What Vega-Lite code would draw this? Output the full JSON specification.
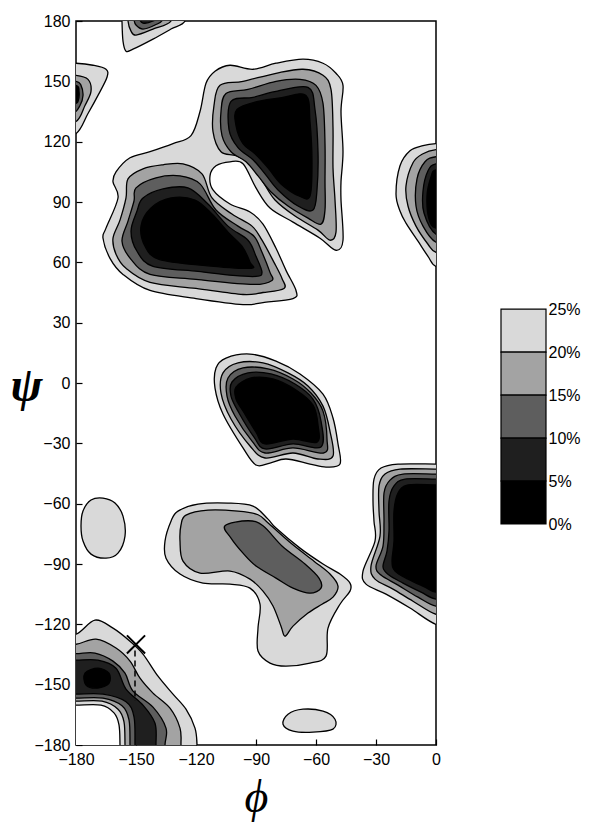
{
  "$schema": "https://vega.github.io/schema/vega-lite/v6.json",
  "background": "white",
  "padding": {"left": 9, "top": 12, "right": 5, "bottom": 5},
  "bounds": "flush",
  "spacing": 65,
  "config": {"view": {"stroke": "black", "strokeWidth": 1.5}, "font": "Liberation Sans"},
  "datasets": {
    "contours": [
      {"poly":"t1a","lev":1,"pass":"A","phi":[-157,-156.5,-155,-151.5,-141.5,-132.5,-125.5,-125.5,-125.5,-157,-157],"psi":[180,170,165,166,171,176,180,190,200,200,190]},
      {"poly":"t1b","lev":2,"pass":"A","phi":[-154,-152.5,-150,-141.5,-132.5,-132.5,-132.5,-154,-154],"psi":[180,175,173,176,180,190,200,200,190]},
      {"poly":"t1c","lev":3,"pass":"A","phi":[-151,-150,-146.5,-140.5,-136.5,-136.5,-136.5,-151,-151],"psi":[181,178,176,178,181,190,200,200,190]},
      {"poly":"t1d","lev":4,"pass":"A","phi":[-148.5,-146.5,-141.5,-140,-140,-140,-148.5,-148.5],"psi":[182,179,180,182,190,200,200,190]},
      {"poly":"le1","lev":1,"pass":"A","phi":[-180,-171.5,-165,-164.5,-169,-174,-180,-190,-200,-200,-190],"psi":[159,158,156,152,143,134,124,124,124,159,159]},
      {"poly":"le2","lev":2,"pass":"A","phi":[-180,-174,-172.5,-175.5,-180,-190,-200,-200,-190],"psi":[153,151,145,138,130,129,129,153,153]},
      {"poly":"le3","lev":3,"pass":"A","phi":[-180,-177.5,-176.5,-178,-181.5,-190,-200,-200,-190],"psi":[150,148,143,138,134,133,133,150,150]},
      {"poly":"le5","lev":5,"pass":"A","phi":[-180,-178.5,-179,-181,-190,-200,-200,-190],"psi":[148,145,140,139,139,139,148,148]},
      {"poly":"big1","lev":1,"pass":"A","phi":[-110.5,-103,-91.5,-80,-66.5,-56.5,-50,-46.5,-47.5,-46.5,-47.5,-47.5,-46.5,-50,-58,-71.5,-83,-90,-96.5,-103,-110,-113,-111.5,-103,-93,-86.5,-80,-75,-70,-71.5,-86.5,-96.5,-120,-143,-156.5,-163,-166.5,-165,-159,-161.5,-160,-153,-143,-131.5,-122.5,-118,-115],"psi":[155,158,156,159,161,159,154,148,135,115,100,91,71,66,72,80,87,97,109,110,108,103,96,89,85,79,67,56,46,42,40,39,42,46,54,62,72,77,92,100,105,112,115,119,123,135,149]},
      {"poly":"tc2","lev":2,"pass":"A","phi":[-108,-96.5,-80,-66.5,-56.5,-52.5,-51.5,-51.5,-50.5,-50,-53,-59,-70.5,-80.5,-86.5,-92.5,-100,-107.5,-111.5,-111],"psi":[148,150,154,156,153,146,127,107,91,75,71,76,83,91,100,109,113,115,125,138]},
      {"poly":"tc3","lev":3,"pass":"A","phi":[-105,-94,-80,-68,-60,-56.5,-55.5,-55.5,-55.5,-57.5,-64,-74,-82.5,-89,-95,-102.5,-107,-107.5],"psi":[144,146,150,151,148,139,119,100,86,79,82,88,95,103,110,115,123,135]},
      {"poly":"tc4","lev":4,"pass":"A","phi":[-102.5,-91.5,-80,-64,-60.5,-59,-59.5,-61.5,-69,-79,-85.5,-91.5,-99,-103.5],"psi":[140,142,145,147,136,115,96,86,88,96,104,111,117,126]},
      {"poly":"tc5","lev":5,"pass":"A","phi":[-99.5,-89,-76.5,-65,-63,-62,-63,-68.5,-77.5,-84,-90.5,-96.5,-100],"psi":[136,140,142,143,130,110,93,93,99,107,114,119,128]},
      {"poly":"lc2","lev":2,"pass":"A","phi":[-154,-146.5,-136.5,-126.5,-117,-112,-102,-92,-87,-81,-77,-76,-86.5,-96.5,-120,-143,-155,-160,-161.5,-158,-155],"psi":[101.5,106.5,108.5,109,104,92,84,78,71,60,52,47,45,44,47,50,57,64,72,81,92]},
      {"poly":"lc3","lev":3,"pass":"A","phi":[-150,-140,-128,-118,-110,-99,-91,-87,-83,-82,-91.5,-120,-143,-152.5,-157,-154,-151],"psi":[97,102,103,99,86,78,73,65,55,51,49,51.5,54,61.5,70.5,80.5,90.5]},
      {"poly":"lc4","lev":4,"pass":"A","phi":[-146.5,-136.5,-124,-114,-104,-94,-90,-87,-90,-101.5,-119,-141.5,-149.5,-152.5,-149.5],"psi":[92,96.5,97,89,78,71,63,55,53,53.5,55.5,58,65.5,75.5,85.5]},
      {"poly":"lc5","lev":5,"pass":"A","phi":[-142.5,-132.5,-120.5,-112,-104,-97,-93,-93,-116.5,-138.5,-145.5,-147.5],"psi":[87,92,91,84,75,68,60,57,58.5,61.5,68,78]},
      {"poly":"ru1","lev":1,"pass":"A","phi":[0,-6.5,-13,-18,-20,-18,-15,-9,-4,0,10,20,20,10],"psi":[119,118,115.5,108,94,85.5,79.5,70.5,63,58,58,58,119,119]},
      {"poly":"ru2","lev":2,"pass":"A","phi":[0,-6.5,-11.5,-15,-14,-10,-4,0,10,20,20,10],"psi":[116,114,109.5,98,88,78,69,65,65,65,116,116]},
      {"poly":"ru3","lev":3,"pass":"A","phi":[0,-5.5,-9.5,-10,-6.5,0,10,20,20,10],"psi":[112.5,110,101.5,88,78,70,70,70,112.5,112.5]},
      {"poly":"ru4","lev":4,"pass":"A","phi":[0,-4,-6.5,-6,0,10,20,20,10],"psi":[109,105.5,95.5,84.5,74,74,74,109,109]},
      {"poly":"ru5","lev":5,"pass":"A","phi":[0,-2.5,-4.5,-3.5,0,10,20,20,10],"psi":[106,102.5,93,81.5,77,77,77,106,106]},
      {"poly":"ca1","lev":1,"pass":"A","phi":[-110,-105,-93,-80,-68,-56.5,-51.5,-49,-48,-55,-63,-75,-83,-90,-96.5,-106.5,-110.5],"psi":[7.5,12.4,14.4,10.9,4.5,-5.5,-17.4,-30.3,-40.3,-41.8,-40.3,-37.8,-39.8,-40.8,-32.3,-15.4,-2.5]},
      {"poly":"ca2","lev":2,"pass":"A","phi":[-106.5,-99,-86.5,-74,-64,-56.5,-53,-51.5,-59,-71.5,-85.5,-93,-102.5,-107.5],"psi":[5,10,10,5,-1.5,-11.5,-24,-36.3,-37.8,-34.8,-37.3,-31.3,-17.9,-5]},
      {"poly":"ca3","lev":3,"pass":"A","phi":[-104,-96.5,-84,-71.5,-62.5,-56.5,-54.5,-56,-71.5,-85.5,-92,-100.5,-104.5],"psi":[2.5,7.5,7,2,-5,-14,-27.9,-34.8,-32.3,-34.8,-28.9,-16.4,-6.5]},
      {"poly":"ca4","lev":4,"pass":"A","phi":[-102,-94,-82.5,-70.5,-61.5,-57.5,-57.5,-71.5,-85.5,-91,-98.5,-102.5],"psi":[0.5,5,4.5,-0.5,-8,-18.9,-31.8,-30.3,-32.8,-26.9,-14.9,-6.5]},
      {"poly":"ca5","lev":5,"pass":"A","phi":[-100,-92.5,-81.5,-70,-61.5,-59,-59.5,-71.5,-85.5,-90,-96.5,-100],"psi":[-2,2.5,2,-3.5,-11,-20.9,-29.4,-27.9,-30.3,-24.4,-13.9,-8]},
      {"poly":"sl1","lev":1,"pass":"A","phi":[-176.5,-172.5,-166.5,-160.5,-156.5,-155.5,-159,-165,-172.5,-176.5,-177.5],"psi":[-63.7,-58.2,-57.2,-59.7,-66.2,-76.1,-84.6,-87.1,-85.1,-78.6,-71.1]},
      {"poly":"lm1","lev":1,"pass":"A","phi":[-129,-119,-104,-91.5,-84,-80,-68,-56.5,-48,-43,-43,-48,-54,-55,-63,-75,-83,-89,-89,-88,-93,-103,-116.5,-128,-135,-135.5,-132.5],"psi":[-63.7,-60.2,-59.7,-61.2,-67.7,-72.1,-82.1,-90,-95,-99.5,-103.5,-110,-121.9,-135.8,-139.3,-140.8,-139.3,-133.3,-121.9,-110,-102,-100,-99.5,-95,-87.1,-78.6,-68.7]},
      {"poly":"lm2","lev":2,"pass":"A","phi":[-125,-114,-99,-89,-83.5,-72,-61,-53,-49,-51.5,-57,-64,-71.5,-75.5,-77.5,-81.5,-86.5,-93,-103,-118,-126.5,-128,-127.5],"psi":[-65.7,-63.2,-63.7,-65.5,-70,-80.1,-88.6,-95,-101,-106.5,-110,-114.4,-120.9,-125.9,-120.9,-110.9,-103.5,-97.5,-93.5,-94.5,-88.6,-78.6,-70.6]},
      {"poly":"lm3","lev":3,"pass":"A","phi":[-105.5,-94,-86.5,-77,-65.5,-58.5,-57.5,-63,-71.5,-80,-90,-96.5,-102.5],"psi":[-71,-68.5,-71,-81,-90,-97,-102,-104.5,-102,-97,-91,-84.6,-77.1]},
      {"poly":"rl1","lev":1,"pass":"A","phi":[0,-19,-27.5,-31,-31.5,-31,-30.5,-36.5,-35,-25,-13,0,10,20,20,10],"psi":[-40.3,-40.3,-42.3,-47.8,-58.7,-68.7,-78.6,-93.5,-100,-105,-111.9,-120,-120,-120,-40.3,-40.3]},
      {"poly":"rl2","lev":2,"pass":"A","phi":[0,-18,-25.5,-28.5,-28.5,-28,-32.5,-30.5,-21.5,-11.5,0,10,20,20,10],"psi":[-42.8,-42.8,-45.3,-51.2,-63.7,-76.1,-91,-97.5,-102.5,-108.5,-115,-115,-115,-42.8,-42.8]},
      {"poly":"rl3","lev":3,"pass":"A","phi":[0,-16.5,-23,-26,-26,-26.5,-30,-27.5,-19,-9,0,10,20,20,10],"psi":[-45.3,-45.3,-48.3,-54.7,-68.7,-81.1,-91,-95.5,-100.5,-106.5,-111,-111,-111,-45.3,-45.3]},
      {"poly":"rl4","lev":4,"pass":"A","phi":[0,-15.5,-21,-23.5,-23.5,-24.5,-26.5,-23.5,-16.5,-7.5,0,10,20,20,10],"psi":[-47.8,-47.8,-51.2,-58.7,-73.6,-83.6,-91.5,-95.5,-99.5,-104,-107.5,-107.5,-107.5,-47.8,-47.8]},
      {"poly":"rl5","lev":5,"pass":"A","phi":[0,-14,-19,-21,-21,-22,-20.5,-14,-5.5,0,10,20,20,10],"psi":[-50.7,-50.7,-54.7,-63.7,-78.6,-88.6,-93.5,-97.5,-101.5,-104,-104,-104,-50.7,-50.7]},
      {"poly":"sb1","lev":1,"pass":"A","phi":[-74,-66.5,-56.5,-50.5,-51.5,-61.5,-71.5,-76.5],"psi":[-164.7,-162.2,-163.2,-167.2,-172.1,-173.6,-173.1,-169.7]},
      {"poly":"bl1","lev":1,"pass":"A","phi":[-180,-170.5,-161.5,-153,-146.5,-139,-131.5,-125,-120.5,-119.5,-119.5,-119.5,-200,-200,-190],"psi":[-124.9,-117.9,-121.9,-128.4,-134.8,-145.8,-154.7,-162.2,-171.6,-180,-190,-200,-200,-124.9,-124.9]},
      {"poly":"bl2","lev":2,"pass":"A","phi":[-180,-170,-160,-153,-148,-141.5,-133,-128,-127.5,-127.5,-127.5,-200,-200,-190],"psi":[-129.9,-127.4,-131.8,-138.3,-146.8,-154.2,-161.7,-171.6,-180,-190,-200,-200,-129.9,-129.9]},
      {"poly":"bl3","lev":3,"pass":"A","phi":[-180,-170.5,-161.5,-155.5,-151.5,-141.5,-135,-135.5,-135.5,-135.5,-200,-200,-190],"psi":[-134.6,-134.3,-138.3,-144.3,-153.2,-161.2,-171.6,-180,-190,-200,-200,-134.6,-134.6]},
      {"poly":"bl4","lev":4,"pass":"A","phi":[-180,-169,-160,-155,-146.5,-140.5,-140,-140,-140,-200,-200,-190],"psi":[-137.8,-137.8,-141.8,-152.2,-160.2,-169.2,-180,-190,-200,-200,-137.8,-137.8]},
      {"poly":"bl5","lev":5,"pass":"A","phi":[-175.5,-169,-163.5,-163.5,-169,-175],"psi":[-144.3,-141.8,-144.3,-149.3,-151.7,-150.2]},
      {"poly":"h3","lev":3,"pass":"B","phi":[-180,-166.5,-155,-151,-150.5,-150.5,-150.5,-200,-200,-190],"psi":[-154.7,-154.7,-158.5,-166,-180,-190,-200,-200,-154.7,-154.7]},
      {"poly":"h2","lev":2,"pass":"B","phi":[-180,-166.5,-157,-153.5,-153,-153,-153,-200,-200,-190],"psi":[-156.7,-156.7,-160.5,-167.5,-180,-190,-200,-200,-156.7,-156.7]},
      {"poly":"h1","lev":1,"pass":"B","phi":[-180,-167,-159,-156,-155.5,-155.5,-155.5,-200,-200,-190],"psi":[-158.2,-158.2,-162.2,-168.5,-180,-190,-200,-200,-158.2,-158.2]},
      {"poly":"h0","lev":0,"pass":"B","phi":[-180,-167.5,-161,-158.5,-158,-158,-158,-200,-200,-190],"psi":[-160.2,-160.2,-164,-170,-180,-190,-200,-200,-160.2,-160.2]}
    ]
  },
  "hconcat": [
    {
      "width": 360,
      "height": 724,
      "encoding": {
        "x": {"field": "phi", "type": "quantitative",
              "scale": {"domain": [-180, 0], "nice": false, "zero": false},
              "axis": {"values": [-180,-150,-120,-90,-60,-30,0], "title": "ϕ",
                       "titleFont": "Liberation Serif", "titleFontStyle": "italic", "titleFontWeight": "normal",
                       "titleFontSize": 46, "titleColor": "black", "titlePadding": 8,
                       "labelFont": "Liberation Sans", "labelFontSize": 16, "labelColor": "black",
                       "labelFlush": false, "labelOverlap": false, "labelPadding": 12,
                       "tickColor": "black", "tickSize": -6, "tickWidth": 1.2, "domain": false, "grid": false}},
        "y": {"field": "psi", "type": "quantitative",
              "scale": {"domain": [-180, 180], "nice": false, "zero": false},
              "axis": {"values": [-180,-150,-120,-90,-60,-30,0,30,60,90,120,150,180], "title": "ψ",
                       "titleFont": "Liberation Serif", "titleFontStyle": "italic", "titleFontWeight": "bold",
                       "titleFontSize": 48, "titleColor": "black", "titleAngle": 0, "titleAlign": "center",
                       "titleBaseline": "middle", "titleX": -50, "titleY": 365,
                       "labelFont": "Liberation Sans", "labelFontSize": 16, "labelColor": "black",
                       "labelFlush": false, "labelOverlap": false, "labelPadding": 12,
                       "tickColor": "black", "tickSize": -6, "tickWidth": 1.2, "domain": false, "grid": false}}
      },
      "layer": [
        {"data": {"name": "contours"}, "transform": [{"filter": "datum.pass == 'A' && datum.lev == 1"}, {"flatten": ["phi", "psi"]}],
         "mark": {"type": "line", "interpolate": "cardinal-closed", "fill": "#d9d9d9", "stroke": "black", "strokeWidth": 1.3, "clip": true},
         "encoding": {"detail": {"field": "poly"}, "order": {"value": null}}},
        {"data": {"name": "contours"}, "transform": [{"filter": "datum.pass == 'A' && datum.lev == 2"}, {"flatten": ["phi", "psi"]}],
         "mark": {"type": "line", "interpolate": "cardinal-closed", "fill": "#a3a3a3", "stroke": "black", "strokeWidth": 1.3, "clip": true},
         "encoding": {"detail": {"field": "poly"}, "order": {"value": null}}},
        {"data": {"name": "contours"}, "transform": [{"filter": "datum.pass == 'A' && datum.lev == 3"}, {"flatten": ["phi", "psi"]}],
         "mark": {"type": "line", "interpolate": "cardinal-closed", "fill": "#5e5e5e", "stroke": "black", "strokeWidth": 1.3, "clip": true},
         "encoding": {"detail": {"field": "poly"}, "order": {"value": null}}},
        {"data": {"name": "contours"}, "transform": [{"filter": "datum.pass == 'A' && datum.lev == 4"}, {"flatten": ["phi", "psi"]}],
         "mark": {"type": "line", "interpolate": "cardinal-closed", "fill": "#1f1f1f", "stroke": "black", "strokeWidth": 1.3, "clip": true},
         "encoding": {"detail": {"field": "poly"}, "order": {"value": null}}},
        {"data": {"name": "contours"}, "transform": [{"filter": "datum.pass == 'A' && datum.lev == 5"}, {"flatten": ["phi", "psi"]}],
         "mark": {"type": "line", "interpolate": "cardinal-closed", "fill": "#000000", "stroke": "black", "strokeWidth": 1.3, "clip": true},
         "encoding": {"detail": {"field": "poly"}, "order": {"value": null}}},
        {"data": {"name": "contours"}, "transform": [{"filter": "datum.pass == 'B' && datum.lev == 3"}, {"flatten": ["phi", "psi"]}],
         "mark": {"type": "line", "interpolate": "cardinal-closed", "fill": "#5e5e5e", "stroke": "black", "strokeWidth": 1.3, "clip": true},
         "encoding": {"detail": {"field": "poly"}, "order": {"value": null}}},
        {"data": {"name": "contours"}, "transform": [{"filter": "datum.pass == 'B' && datum.lev == 2"}, {"flatten": ["phi", "psi"]}],
         "mark": {"type": "line", "interpolate": "cardinal-closed", "fill": "#a3a3a3", "stroke": "black", "strokeWidth": 1.3, "clip": true},
         "encoding": {"detail": {"field": "poly"}, "order": {"value": null}}},
        {"data": {"name": "contours"}, "transform": [{"filter": "datum.pass == 'B' && datum.lev == 1"}, {"flatten": ["phi", "psi"]}],
         "mark": {"type": "line", "interpolate": "cardinal-closed", "fill": "#d9d9d9", "stroke": "black", "strokeWidth": 1.3, "clip": true},
         "encoding": {"detail": {"field": "poly"}, "order": {"value": null}}},
        {"data": {"name": "contours"}, "transform": [{"filter": "datum.pass == 'B' && datum.lev == 0"}, {"flatten": ["phi", "psi"]}],
         "mark": {"type": "line", "interpolate": "cardinal-closed", "fill": "#ffffff", "stroke": "black", "strokeWidth": 1.3, "clip": true},
         "encoding": {"detail": {"field": "poly"}, "order": {"value": null}}},
        {"data": {"values": [{"phi": -150.5, "psi": -133, "psi2": -158}]},
         "mark": {"type": "rule", "stroke": "black", "strokeWidth": 1.5, "strokeDash": [6, 4]},
         "encoding": {"y2": {"field": "psi2"}}},
        {"data": {"values": [{"phi": -150, "psi": -130}]},
         "mark": {"type": "point", "shape": "M-1,-1L1,1M1,-1L-1,1", "size": 330, "stroke": "black", "strokeWidth": 2, "filled": false, "opacity": 1},
         "encoding": {}}
      ]
    },
    {
      "width": 45,
      "height": 724,
      "view": {"stroke": null},
      "data": {"values": [
        {"lo": 20, "hi": 25, "lev": "1", "a": 0, "b": 1},
        {"lo": 15, "hi": 20, "lev": "2", "a": 0, "b": 1},
        {"lo": 10, "hi": 15, "lev": "3", "a": 0, "b": 1},
        {"lo": 5, "hi": 10, "lev": "4", "a": 0, "b": 1},
        {"lo": 0, "hi": 5, "lev": "5", "a": 0, "b": 1}
      ]},
      "mark": {"type": "rect", "stroke": "black", "strokeWidth": 1.2},
      "encoding": {
        "x": {"field": "a", "type": "quantitative", "scale": {"domain": [0, 1], "nice": false, "zero": false}, "axis": null},
        "x2": {"field": "b"},
        "y": {"field": "lo", "type": "quantitative", "scale": {"domain": [-25.7, 58.5], "nice": false, "zero": false},
              "axis": {"orient": "right", "values": [0, 5, 10, 15, 20, 25], "labelExpr": "datum.value + '%'", "title": null,
                       "domain": false, "ticks": false, "grid": false, "labelFont": "Liberation Sans", "labelFontSize": 16,
                       "labelColor": "black", "labelPadding": 2, "labelFlush": false, "labelOverlap": false}},
        "y2": {"field": "hi"},
        "fill": {"field": "lev", "type": "nominal",
                 "scale": {"domain": ["1", "2", "3", "4", "5"], "range": ["#d9d9d9", "#a3a3a3", "#5e5e5e", "#1f1f1f", "#000000"]},
                 "legend": null}
      }
    }
  ]
}
